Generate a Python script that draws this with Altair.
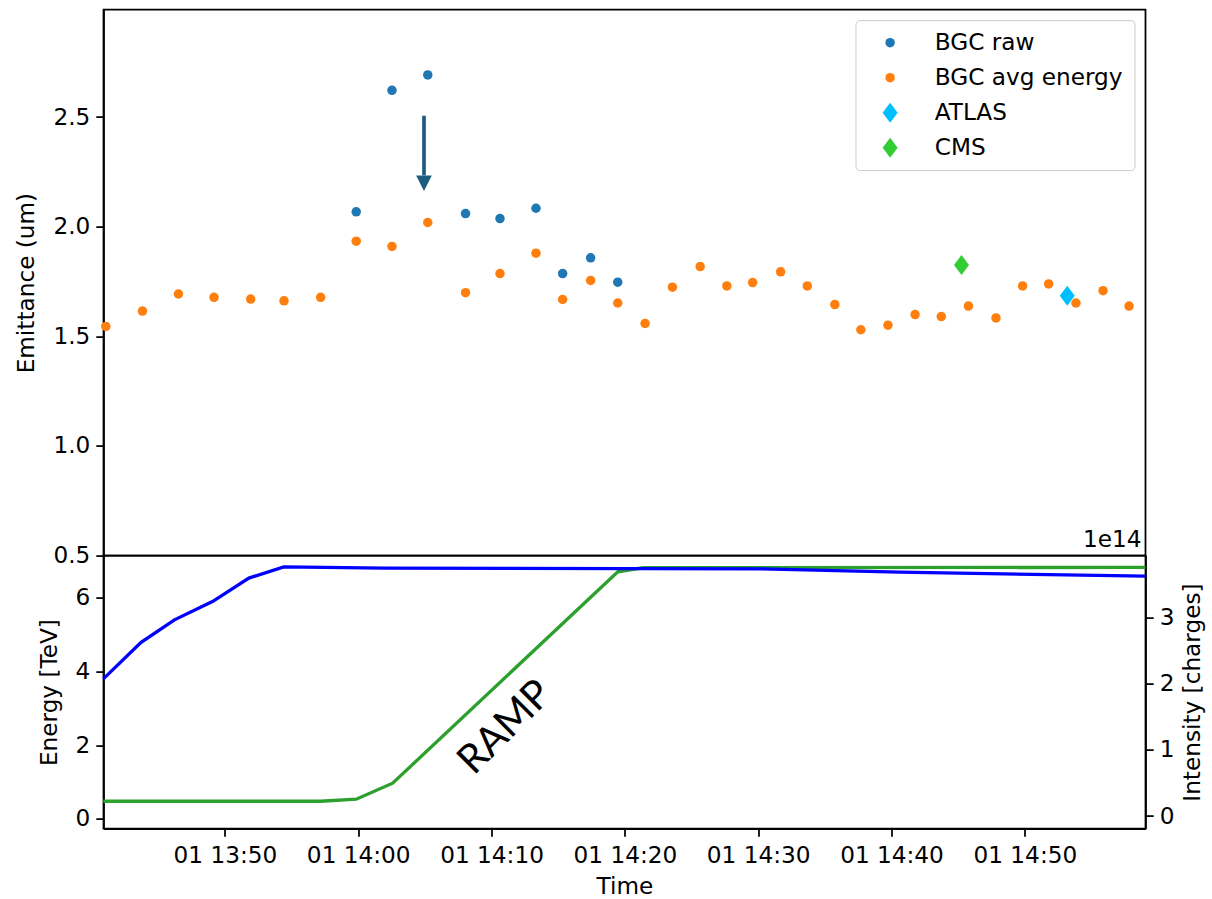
import altair as alt
import pandas as pd

DAY = "2022-06-01"
FONT = "DejaVu Sans"
FS = 23.2

# ---- top panel: emittance ----
series_names = ["BGC raw", "BGC avg energy", "ATLAS", "CMS"]
series_colors = ["#1f77b4", "#ff7f0e", "#00bfff", "#32cd32"]

raw_times = ["13:59:51", "14:02:32", "14:05:13", "14:08:03", "14:10:38",
             "14:13:20", "14:15:20", "14:17:26", "14:19:28"]
raw_vals = [2.068, 2.622, 2.692, 2.060, 2.037, 2.084, 1.786, 1.858, 1.747]

avg_times = ["13:41:04", "13:43:49", "13:46:31", "13:49:11", "13:51:56", "13:54:26",
             "13:57:11", "13:59:51", "14:02:32", "14:05:13", "14:08:03", "14:10:38",
             "14:13:20", "14:15:20", "14:17:26", "14:19:28", "14:21:31", "14:23:34",
             "14:25:39", "14:27:39", "14:29:35", "14:31:41", "14:33:41", "14:35:45",
             "14:37:42", "14:39:44", "14:41:46", "14:43:44", "14:45:46", "14:47:50",
             "14:49:50", "14:51:47", "14:53:50", "14:55:52", "14:57:49"]
avg_vals = [1.545, 1.615, 1.693, 1.678, 1.670, 1.662, 1.678, 1.934, 1.910, 2.019,
            1.699, 1.786, 1.879, 1.668, 1.755, 1.652, 1.559, 1.724, 1.818, 1.730,
            1.745, 1.794, 1.730, 1.645, 1.530, 1.551, 1.599, 1.590, 1.638, 1.584,
            1.730, 1.739, 1.652, 1.708, 1.638]

atlas_times = ["14:53:11"]
atlas_vals = [1.685]
cms_times = ["14:45:15"]
cms_vals = [1.825]

arrow_time = ["14:04:56"]
arrow_top = [2.506]
arrow_base = [2.234]
arrow_head = [2.198]

# ---- bottom panel: energy & intensity ----
energy_times = ["13:40:53", "13:57:10", "13:59:51", "14:02:35", "14:19:28", "14:21:20", "14:59:03"]
energy_vals = [0.48, 0.48, 0.535, 0.97, 6.71, 6.82, 6.83]

intensity_times = ["13:40:53", "13:43:43", "13:46:13", "13:49:06", "13:51:48", "13:54:25",
                   "14:01:58", "14:30:06", "14:40:36", "14:59:03"]
intensity_vals = [2.07, 2.62, 2.96, 3.24, 3.59, 3.76, 3.74, 3.73, 3.68, 3.62]

ramp_time = ["14:11:02"]
ramp_energy = [2.48]
ramp_label = ["RAMP"]

x_ticks = ["13:50", "14:00", "14:10", "14:20", "14:30", "14:40", "14:50"]
x_start = "13:40:53.7"
x_end = "14:59:03"


def ts(t):
    return f"{DAY}T{t}"


def dt(t):
    parts = t.split(":")
    h, m = int(parts[0]), int(parts[1])
    s = float(parts[2]) if len(parts) > 2 else 0.0
    kw = dict(year=2022, month=6, date=1, hours=h, minutes=m, seconds=int(s))
    ms = int(round((s - int(s)) * 1000))
    if ms:
        kw["milliseconds"] = ms
    return alt.DateTime(**kw)


rows = []
for name, tl, vl, z in [("ATLAS", atlas_times, atlas_vals, 0), ("CMS", cms_times, cms_vals, 1),
                        ("BGC raw", raw_times, raw_vals, 2),
                        ("BGC avg energy", avg_times, avg_vals, 3)]:
    for t, v in zip(tl, vl):
        rows.append({"t": ts(t), "v": v, "series": name, "z": z})
pts_df = pd.DataFrame(rows)

arrow_df = pd.DataFrame({"t": [ts(t) for t in arrow_time], "y1": arrow_top,
                         "y2": arrow_base, "yh": arrow_head})
energy_df = pd.DataFrame({"t": [ts(t) for t in energy_times], "v": energy_vals})
int_df = pd.DataFrame({"t": [ts(t) for t in intensity_times], "v": intensity_vals})
ramp_df = pd.DataFrame({"t": [ts(t) for t in ramp_time], "v": ramp_energy, "label": ramp_label})
exp_df = pd.DataFrame({"label": ["1e14"]})

W = 1042
H_TOP = 546
H_BOT = 273

xscale = alt.Scale(domain=[dt(x_start), dt(x_end)])
DIAMOND = "M0,-1L0.75,0L0,1L-0.75,0Z"

top_y_scale = alt.Scale(domain=[0.5, 2.99], nice=False, zero=False)
top_y_axis = alt.Axis(values=[0.5, 1.0, 1.5, 2.0, 2.5], format=".1f", title="Emittance (um)")


def top_y(field):
    return alt.Y(f"{field}:Q", scale=top_y_scale, axis=top_y_axis)


legend = alt.Legend(title=None, orient="none", legendX=752, legendY=10.5,
                    fillColor="white", strokeColor="#cccccc", cornerRadius=4,
                    padding=11, labelFont=FONT, labelFontSize=FS, labelColor="black",
                    labelLimit=400, rowPadding=11, labelOffset=33, symbolOffset=12,
                    symbolStrokeWidth=0)

points = alt.Chart(pts_df).mark_point(filled=True, opacity=1, strokeWidth=0).encode(
    x=alt.X("t:T", scale=xscale, axis=None),
    y=top_y("v"),
    color=alt.Color("series:N", scale=alt.Scale(domain=series_names, range=series_colors), legend=legend),
    shape=alt.Shape("series:N", scale=alt.Scale(domain=series_names,
                                                range=["circle", "circle", DIAMOND, DIAMOND]), legend=legend),
    size=alt.Size("series:N", scale=alt.Scale(type="ordinal", domain=series_names,
                                              range=[90, 90, 400, 400]), legend=legend),
    order=alt.Order("z:Q"),
)

ARROW = "#1b5c80"
shaft = alt.Chart(arrow_df).mark_rule(color=ARROW, strokeWidth=3.7).encode(
    x=alt.X("t:T", scale=xscale, axis=None), y=top_y("y1"), y2="y2:Q")
head = alt.Chart(arrow_df).mark_point(shape="M-1,-1L1,-1L0,1Z", filled=True, color=ARROW,
                                      size=246, opacity=1, strokeWidth=0).encode(
    x=alt.X("t:T", scale=xscale, axis=None), y=top_y("yh"))

# offset-exponent label of the intensity axis, sitting just above the lower panel
exp_txt = alt.Chart(exp_df).mark_text(font=FONT, fontSize=FS, color="black",
                                      align="right", baseline="middle").encode(
    x=alt.value(W - 4), y=alt.value(H_TOP - 15.4), text="label:N")

top = alt.layer(points, shaft, head, exp_txt).properties(width=W, height=H_TOP)

x_axis = alt.Axis(values=[dt(t) for t in x_ticks], format="%d %H:%M", title="Time",
                  labelPadding=8, titlePadding=9)

e_scale = alt.Scale(domain=[-0.263, 7.15], nice=False, zero=False)
e_axis = alt.Axis(values=[0, 2, 4, 6], title="Energy [TeV]", orient="left")

e_line = alt.Chart(energy_df).mark_line(color="#2ca02c", strokeWidth=3.3).encode(
    x=alt.X("t:T", scale=xscale, axis=x_axis),
    y=alt.Y("v:Q", scale=e_scale, axis=e_axis))
ramp = alt.Chart(ramp_df).mark_text(angle=315, font="Lato", fontSize=40, color="black",
                                    align="center", baseline="middle").encode(
    x=alt.X("t:T", scale=xscale, axis=x_axis),
    y=alt.Y("v:Q", scale=e_scale, axis=e_axis),
    text="label:N")
left = alt.layer(e_line, ramp)

i_line = alt.Chart(int_df).mark_line(color="#0000ff", strokeWidth=3.3).encode(
    x=alt.X("t:T", scale=xscale, axis=x_axis),
    y=alt.Y("v:Q", scale=alt.Scale(domain=[-0.19, 3.93], nice=False, zero=False),
            axis=alt.Axis(values=[0, 1, 2, 3], title="Intensity [charges]", orient="right",
                          titleAngle=270, titleBaseline="top", titlePadding=8)))

bottom = alt.layer(left, i_line).resolve_scale(y="independent").properties(width=W, height=H_BOT)

chart = alt.vconcat(top, bottom, spacing=0, bounds="flush").resolve_scale(
    color="independent", shape="independent", size="independent"
).resolve_legend(
    color="independent", shape="independent", size="independent"
).properties(
    padding={"left": 13.5, "top": 8.6, "right": 0, "bottom": 0}
).configure_view(
    stroke="black", strokeWidth=1.75
).configure_axis(
    labelFont=FONT, labelFontSize=FS, labelColor="black",
    titleFont=FONT, titleFontSize=FS, titleFontWeight="normal", titleColor="black",
    domainColor="black", domainWidth=1.75, tickColor="black", tickWidth=1.75,
    tickSize=7.7, labelPadding=6, titlePadding=14, grid=False,
)

chart.save("out.html", embed_options={"renderer": "svg", "actions": False})
